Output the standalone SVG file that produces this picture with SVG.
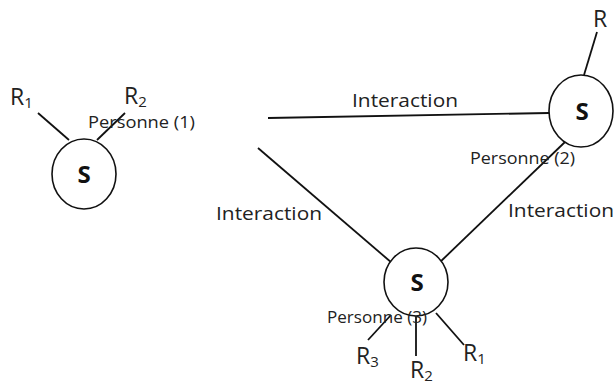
<svg xmlns="http://www.w3.org/2000/svg" width="614" height="385" viewBox="0 0 614 385">
<style>
.c{fill:#fff;stroke:#111;stroke-width:1.6}
.l{stroke:#111;stroke-width:1.8;fill:none}
.t{font-family:"Open Sans","Liberation Sans",sans-serif;fill:#222}
.s{font-family:"Open Sans","Liberation Sans",sans-serif;font-weight:bold;font-size:24px;fill:#111;text-anchor:middle}
.r{font-family:"Open Sans","Liberation Sans",sans-serif;font-size:23px;fill:#222}
.p{font-size:16px}
.i{font-size:19px}
</style>
<rect width="614" height="385" fill="#fff"/>
<g id="connectors">
<line class="l" x1="268" y1="118" x2="549" y2="113"/>
<line class="l" x1="258" y1="148" x2="392" y2="263"/>
<line class="l" x1="565" y1="142" x2="438" y2="264"/>
<text class="t i" x="352" y="107" textLength="106" lengthAdjust="spacingAndGlyphs">Interaction</text>
<text class="t i" x="216" y="220" textLength="106" lengthAdjust="spacingAndGlyphs">Interaction</text>
<text class="t i" x="508" y="217" textLength="106" lengthAdjust="spacingAndGlyphs">Interaction</text>
</g>
<g id="node1">
<line class="l" x1="38" y1="113" x2="69" y2="140"/>
<line class="l" x1="125" y1="113" x2="97" y2="140"/>
<ellipse class="c" cx="84" cy="174" rx="32" ry="35"/>
<text class="s" x="84" y="183">S</text>
<text class="r" x="10" y="105">R<tspan font-size="15" dy="3">1</tspan></text>
<text class="r" x="124" y="104">R<tspan font-size="15" dy="3">2</tspan></text>
<text class="t p" x="88" y="128" textLength="107" lengthAdjust="spacingAndGlyphs">Personne (1)</text>
</g>
<g id="node2">
<line class="l" x1="597" y1="32" x2="584" y2="75"/>
<ellipse class="c" cx="581" cy="111" rx="32" ry="36"/>
<text class="s" x="582" y="120">S</text>
<text class="r" x="593" y="27">R</text>
<text class="t p" x="470" y="164" textLength="105" lengthAdjust="spacingAndGlyphs">Personne (2)</text>
</g>
<g id="node3">
<line class="l" x1="391" y1="315" x2="368" y2="340"/>
<line class="l" x1="416" y1="316" x2="416" y2="356"/>
<line class="l" x1="436" y1="313" x2="464" y2="345"/>
<ellipse class="c" cx="416" cy="282" rx="32" ry="34"/>
<text class="s" x="417" y="291">S</text>
<text class="t p" x="327" y="323" textLength="100" lengthAdjust="spacingAndGlyphs">Personne (3)</text>
<text class="r" x="356" y="364">R<tspan font-size="15" dy="3">3</tspan></text>
<text class="r" x="410" y="378">R<tspan font-size="15" dy="3">2</tspan></text>
<text class="r" x="463" y="361">R<tspan font-size="15" dy="3">1</tspan></text>
</g>
</svg>
